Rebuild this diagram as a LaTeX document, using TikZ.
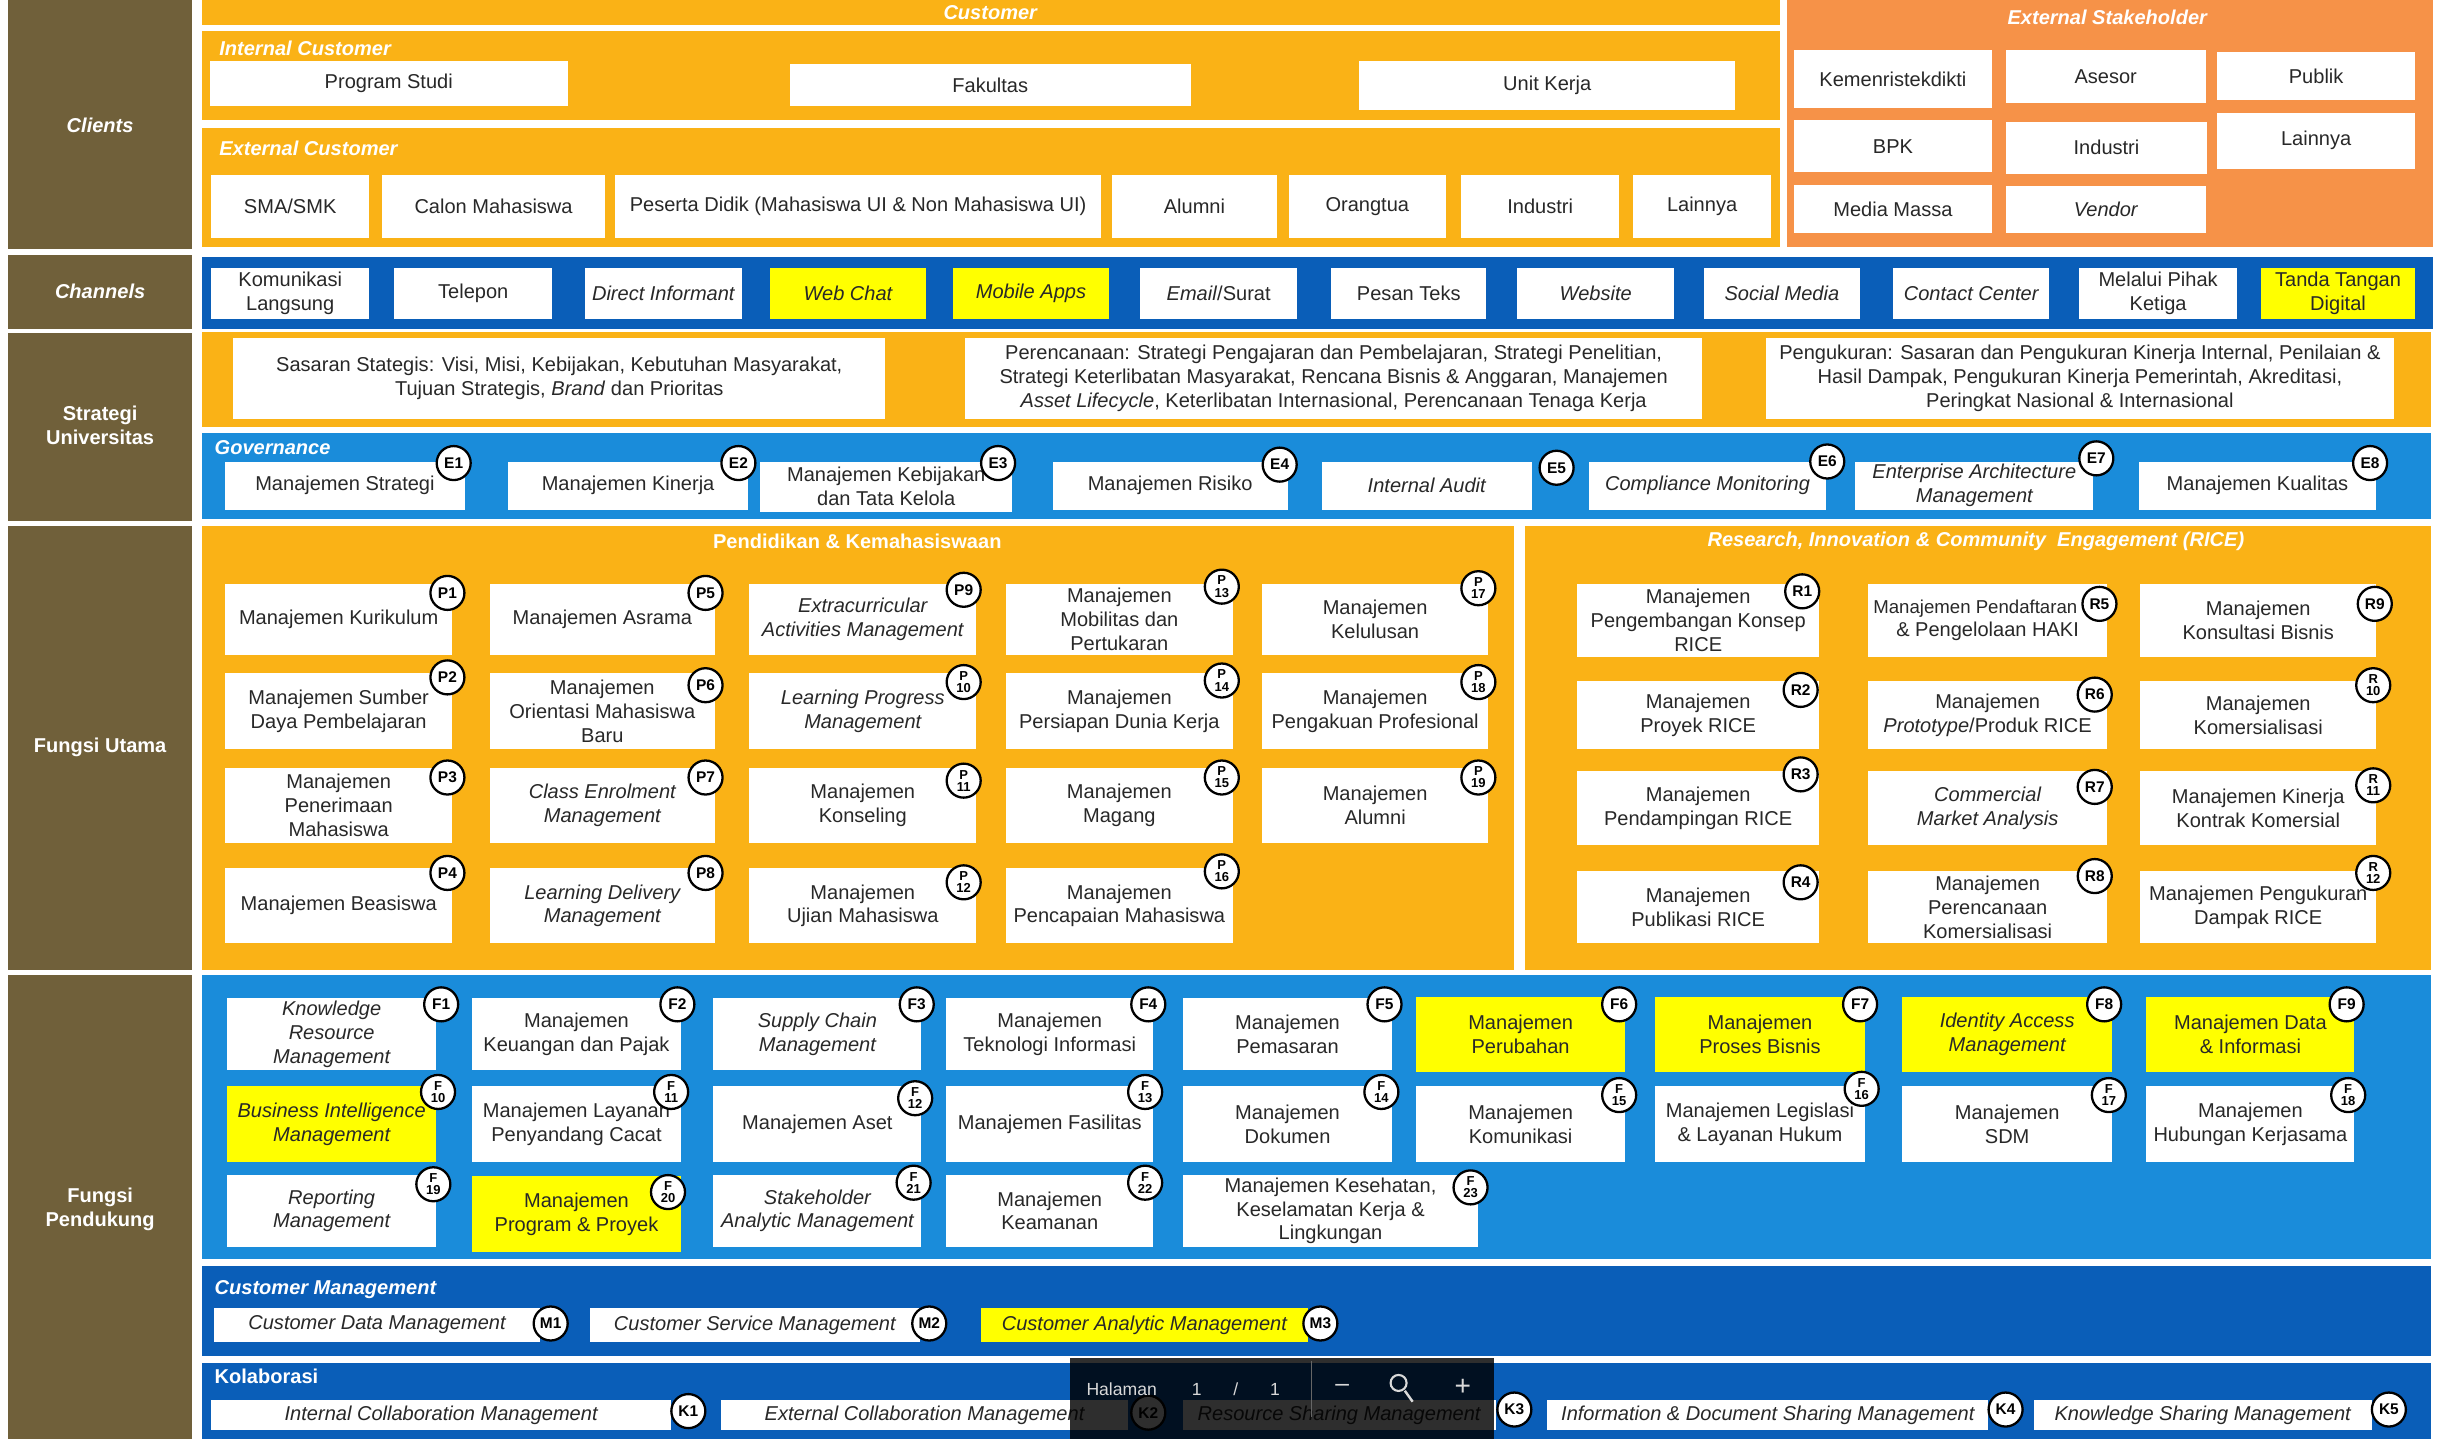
\documentclass[tikz,border=0pt]{standalone}
\usepackage{fontspec}
\setmainfont{Liberation Sans}
\definecolor{brn}{RGB}{112,96,58}
\definecolor{corange}{RGB}{250,178,22}
\definecolor{eorange}{RGB}{246,146,72}
\definecolor{dblue}{RGB}{10,94,184}
\definecolor{lblue}{RGB}{26,140,218}
\definecolor{hyel}{RGB}{255,255,0}
\definecolor{txt}{RGB}{40,40,40}
\newcommand\fsz{\fontsize{11.4}{13.6}\selectfont}
\newcommand\mybox[7]{%
  \pgfmathsetmacro\mbw{(#4-#2)*0.031288}%
  \pgfmathsetmacro\mbh{(#5-#3)*0.031288}%
  \node[box,#6,minimum width=\mbw cm,minimum height=\mbh cm] (#1) at ({(#2+#4)/2},{(#3+#5)/2}) {#7};%
}
\newcommand\mybdg[4]{\node[badge] (#1) at (#2,#3) {#4};}
\newcommand\mybdgg[5]{\node[badge,font=\bfseries\fontsize{7.4}{6.9}\selectfont] (#1) at (#2,#3) {#4\\#5};}
\tikzset{
  box/.style={fill=white, inner sep=0pt, align=center, text=txt, font=\fsz},
  yel/.style={fill=hyel},
  itx/.style={font=\fsz\itshape},
  badge/.style={circle, draw=black, line width=1.3pt, fill=white, minimum size=0.68cm, inner sep=0pt, align=center, text=black, font=\bfseries\fontsize{8.8}{8.8}\selectfont},
  hdr/.style={text=white, font=\fsz\bfseries\itshape, inner sep=0pt},
  side/.style={text=white, font=\fsz\bfseries, align=center, inner sep=0pt},
  tbtext/.style={text=white!85!black, font=\fontsize{10}{10}\selectfont, inner sep=0pt}
}
\begin{document}
\begin{tikzpicture}[x=0.031288cm,y=-0.031288cm]
\useasboundingbox (0,0) rectangle (1568,920);
\fill[white] (0,0) rectangle (1568,920);
% ---------- left column
\fill[brn] (5,0) rectangle (123,159);
\fill[brn] (5,163) rectangle (123,210);
\fill[brn] (5,213) rectangle (123,333);
\fill[brn] (5,336) rectangle (123,620);
\fill[brn] (5,623) rectangle (123,920);
\node[side,font=\fsz\bfseries\itshape] (lcl) at (64,80) {Clients};
\node[side,font=\fsz\bfseries\itshape] (lch) at (64,186) {Channels};
\node[side] (lsu) at (64,272) {Strategi\\Universitas};
\node[side] (lfu) at (64,478) {Fungsi Utama};
\node[side] (lfp) at (64,773) {Fungsi\\Pendukung};
% ---------- panels
\fill[corange] (129,0) rectangle (1138,16);
\fill[corange] (129,20) rectangle (1138,77);
\fill[corange] (129,82) rectangle (1138,158);
\fill[eorange] (1142,0) rectangle (1555,158);
\fill[dblue] (129,164) rectangle (1555,210);
\fill[corange] (129,212) rectangle (1554,273);
\fill[lblue] (129,277) rectangle (1554,332);
\fill[corange] (129,336) rectangle (968,620);
\fill[corange] (975,336) rectangle (1554,620);
\fill[lblue] (129,623) rectangle (1554,805);
\fill[dblue] (129,809) rectangle (1554,867);
\fill[dblue] (129,871) rectangle (1554,920);
% ---------- headers
\node[hdr] (hcust) at (633,8) {Customer};
\node[hdr,anchor=west] (hint) at (140,31) {Internal Customer};
\node[hdr,anchor=west] (hext) at (140,95) {External Customer};
\node[hdr] (hes) at (1347,11) {External Stakeholder};
\node[hdr,anchor=west] (hgov) at (137,286) {Governance};
\node[hdr,font=\fsz\bfseries] (hpk) at (548,346) {Pendidikan \& Kemahasiswaan};
\node[hdr] (hrice) at (1263,346) {Research, Innovation \& Community\ \ Engagement (RICE)};
\node[hdr,anchor=west] (hcm) at (137,824) {Customer Management};
\node[hdr,anchor=west,font=\fsz\bfseries] (hkol) at (137,880) {Kolaborasi};
% ---------- clients
\mybox{prodi}{134}{39}{363}{68}{}{Program Studi}
\mybox{fak}{505}{41}{761}{68}{}{Fakultas}
\mybox{unit}{869}{39}{1109}{70}{}{Unit Kerja}
\mybox{sma}{135}{112}{236}{152}{}{SMA/SMK}
\mybox{calon}{244}{112}{387}{152}{}{Calon Mahasiswa}
\mybox{peserta}{393}{112}{704}{152}{}{Peserta Didik (Mahasiswa UI \& Non Mahasiswa UI)}
\mybox{alumni}{711}{112}{816}{152}{}{Alumni}
\mybox{ortu}{824}{112}{924}{152}{}{Orangtua}
\mybox{indc}{934}{112}{1035}{152}{}{Industri}
\mybox{lainc}{1044}{112}{1132}{152}{}{Lainnya}
\mybox{kemen}{1147}{32}{1273}{69}{}{Kemenristekdikti}
\mybox{asesor}{1282}{32}{1410}{66}{}{Asesor}
\mybox{publik}{1417}{33}{1544}{64}{}{Publik}
\mybox{bpk}{1147}{77}{1273}{110}{}{BPK}
\mybox{inds}{1282}{78}{1411}{111}{}{Industri}
\mybox{lains}{1417}{72}{1544}{108}{}{Lainnya}
\mybox{media}{1147}{118}{1273}{149}{}{Media Massa}
\mybox{vendor}{1282}{119}{1410}{149}{itx}{Vendor}
% ---------- channels
\mybox{ch1}{135}{171}{236}{204}{}{Komunikasi\\Langsung}
\mybox{ch2}{252}{171}{353}{204}{}{Telepon}
\mybox{ch3}{374}{171}{474}{204}{itx}{Direct Informant}
\mybox{ch4}{492}{171}{592}{204}{yel,itx}{Web Chat}
\mybox{ch5}{609}{171}{709}{204}{yel,itx}{Mobile Apps}
\mybox{ch6}{729}{171}{829}{204}{}{\textit{Email}/Surat}
\mybox{ch7}{851}{171}{950}{204}{}{Pesan Teks}
\mybox{ch8}{970}{171}{1070}{204}{itx}{Website}
\mybox{ch9}{1089}{171}{1189}{204}{itx}{Social Media}
\mybox{ch10}{1210}{171}{1310}{204}{itx}{Contact Center}
\mybox{ch11}{1329}{171}{1430}{204}{}{Melalui Pihak\\Ketiga}
\mybox{ch12}{1445}{171}{1544}{204}{yel}{Tanda Tangan\\Digital}
% ---------- strategi
\mybox{s1}{149}{216}{566}{268}{}{Sasaran Stategis: Visi, Misi, Kebijakan, Kebutuhan Masyarakat,\\Tujuan Strategis, \textit{Brand} dan Prioritas}
\mybox{s2}{617}{216}{1088}{268}{}{Perencanaan: Strategi Pengajaran dan Pembelajaran, Strategi Penelitian,\\Strategi Keterlibatan Masyarakat, Rencana Bisnis \& Anggaran, Manajemen\\\textit{Asset Lifecycle}, Keterlibatan Internasional, Perencanaan Tenaga Kerja}
\mybox{s3}{1129}{216}{1530}{268}{}{Pengukuran: Sasaran dan Pengukuran Kinerja Internal, Penilaian \&\\Hasil Dampak, Pengukuran Kinerja Pemerintah, Akreditasi,\\Peringkat Nasional \& Internasional}
% ---------- governance
\mybox{e1}{144}{295}{297}{326}{}{Manajemen Strategi}
\mybox{e2}{325}{295}{478}{326}{}{Manajemen Kinerja}
\mybox{e3}{486}{295}{647}{327}{}{Manajemen Kebijakan\\dan Tata Kelola}
\mybox{e4}{673}{295}{823}{326}{}{Manajemen Risiko}
\mybox{e5}{845}{295}{979}{326}{itx}{Internal Audit}
\mybox{e6}{1016}{295}{1167}{326}{itx}{Compliance Monitoring}
\mybox{e7}{1186}{295}{1338}{326}{itx}{Enterprise Architecture\\Management}
\mybox{e8}{1367}{295}{1519}{326}{}{Manajemen Kualitas}
\mybdg{be1}{290}{296}{E1}
\mybdg{be2}{472}{296}{E2}
\mybdg{be3}{638}{296}{E3}
\mybdg{be4}{818}{297}{E4}
\mybdg{be5}{995}{299}{E5}
\mybdg{be6}{1168}{295}{E6}
\mybdg{be7}{1340}{293}{E7}
\mybdg{be8}{1515}{296}{E8}
% ---------- pendidikan
\mybox{p1}{144}{373}{289}{419}{}{Manajemen Kurikulum}
\mybox{p2}{144}{430}{289}{479}{}{Manajemen Sumber\\Daya Pembelajaran}
\mybox{p3}{144}{491}{289}{539}{}{Manajemen\\Penerimaan\\Mahasiswa}
\mybox{p4}{144}{555}{289}{603}{}{Manajemen Beasiswa}
\mybox{p5}{313}{373}{457}{419}{}{Manajemen Asrama}
\mybox{p6}{313}{430}{457}{479}{}{Manajemen\\Orientasi Mahasiswa\\Baru}
\mybox{p7}{313}{491}{457}{539}{itx}{Class Enrolment\\Management}
\mybox{p8}{313}{555}{457}{603}{itx}{Learning Delivery\\Management}
\mybox{p9}{479}{373}{624}{419}{itx}{Extracurricular\\Activities Management}
\mybox{p10}{479}{430}{624}{479}{itx}{Learning Progress\\Management}
\mybox{p11}{479}{491}{624}{539}{}{Manajemen\\Konseling}
\mybox{p12}{479}{555}{624}{603}{}{Manajemen\\Ujian Mahasiswa}
\mybox{p13}{643}{373}{788}{419}{}{Manajemen\\Mobilitas dan\\Pertukaran}
\mybox{p14}{643}{430}{788}{479}{}{Manajemen\\Persiapan Dunia Kerja}
\mybox{p15}{643}{491}{788}{539}{}{Manajemen\\Magang}
\mybox{p16}{643}{555}{788}{603}{}{Manajemen\\Pencapaian Mahasiswa}
\mybox{p17}{807}{373}{951}{419}{}{Manajemen\\Kelulusan}
\mybox{p18}{807}{430}{951}{479}{}{Manajemen\\Pengakuan Profesional}
\mybox{p19}{807}{491}{951}{539}{}{Manajemen\\Alumni}
\mybdg{bp1}{286}{379}{P1}
\mybdg{bp2}{286}{433}{P2}
\mybdg{bp3}{286}{497}{P3}
\mybdg{bp4}{286}{558}{P4}
\mybdg{bp5}{451}{379}{P5}
\mybdg{bp6}{451}{438}{P6}
\mybdg{bp7}{451}{497}{P7}
\mybdg{bp8}{451}{558}{P8}
\mybdg{bp9}{616}{377}{P9}
\mybdgg{bp10}{616}{436}{P}{10}
\mybdgg{bp11}{616}{499}{P}{11}
\mybdgg{bp12}{616}{564}{P}{12}
\mybdgg{bp13}{781}{375}{P}{13}
\mybdgg{bp14}{781}{435}{P}{14}
\mybdgg{bp15}{781}{497}{P}{15}
\mybdgg{bp16}{781}{557}{P}{16}
\mybdgg{bp17}{945}{376}{P}{17}
\mybdgg{bp18}{945}{436}{P}{18}
\mybdgg{bp19}{945}{497}{P}{19}
% ---------- RICE
\mybox{r1}{1008}{373}{1163}{420}{}{Manajemen\\Pengembangan Konsep\\RICE}
\mybox{r2}{1008}{435}{1163}{479}{}{Manajemen\\Proyek RICE}
\mybox{r3}{1008}{493}{1163}{540}{}{Manajemen\\Pendampingan RICE}
\mybox{r4}{1008}{557}{1163}{603}{}{Manajemen\\Publikasi RICE}
\mybox{r5}{1194}{373}{1347}{420}{}{{\fontsize{10.6}{13.6}\selectfont Manajemen Pendaftaran}\hspace*{14pt}\\\& Pengelolaan HAKI}
\mybox{r6}{1194}{435}{1347}{479}{}{Manajemen\\\textit{Prototype}/Produk RICE}
\mybox{r7}{1194}{493}{1347}{540}{itx}{Commercial\\Market Analysis}
\mybox{r8}{1194}{557}{1347}{603}{}{Manajemen\\Perencanaan\\Komersialisasi}
\mybox{r9}{1368}{373}{1519}{420}{}{Manajemen\\Konsultasi Bisnis}
\mybox{r10}{1368}{435}{1519}{479}{}{Manajemen\\Komersialisasi}
\mybox{r11}{1368}{493}{1519}{540}{}{Manajemen Kinerja\\Kontrak Komersial}
\mybox{r12}{1368}{557}{1519}{603}{}{Manajemen Pengukuran\\Dampak RICE}
\mybdg{br1}{1152}{378}{R1}
\mybdg{br2}{1151}{441}{R2}
\mybdg{br3}{1151}{495}{R3}
\mybdg{br4}{1151}{564}{R4}
\mybdg{br5}{1342}{386}{R5}
\mybdg{br6}{1339}{444}{R6}
\mybdg{br7}{1339}{503}{R7}
\mybdg{br8}{1339}{560}{R8}
\mybdg{br9}{1518}{386}{R9}
\mybdgg{br10}{1517}{438}{R}{10}
\mybdgg{br11}{1517}{502}{R}{11}
\mybdgg{br12}{1517}{558}{R}{12}
% ---------- fungsi pendukung
\mybox{f1}{145}{638}{279}{684}{itx}{Knowledge\\Resource\\Management}
\mybox{f2}{302}{638}{435}{684}{}{Manajemen\\Keuangan dan Pajak}
\mybox{f3}{456}{638}{589}{684}{itx}{Supply Chain\\Management}
\mybox{f4}{605}{638}{737}{684}{}{Manajemen\\Teknologi Informasi}
\mybox{f5}{756}{638}{890}{684}{}{Manajemen\\Pemasaran}
\mybox{f6}{905}{637}{1039}{685}{yel}{Manajemen\\Perubahan}
\mybox{f7}{1058}{637}{1192}{685}{yel}{Manajemen\\Proses Bisnis}
\mybox{f8}{1216}{637}{1350}{685}{yel,itx}{Identity Access\\Management}
\mybox{f9}{1372}{637}{1505}{685}{yel}{Manajemen Data\\\& Informasi}
\mybox{f10}{145}{694}{279}{743}{yel,itx}{Business Intelligence\\Management}
\mybox{f11}{302}{694}{435}{743}{}{Manajemen Layanan\\Penyandang Cacat}
\mybox{f12}{456}{694}{589}{743}{}{Manajemen Aset}
\mybox{f13}{605}{694}{737}{743}{}{Manajemen Fasilitas}
\mybox{f14}{756}{694}{890}{743}{}{Manajemen\\Dokumen}
\mybox{f15}{905}{694}{1039}{743}{}{Manajemen\\Komunikasi}
\mybox{f16}{1058}{694}{1192}{743}{}{Manajemen Legislasi\\\& Layanan Hukum}
\mybox{f17}{1216}{694}{1350}{743}{}{Manajemen\\SDM}
\mybox{f18}{1372}{694}{1505}{743}{}{Manajemen\\Hubungan Kerjasama}
\mybox{f19}{145}{751}{279}{797}{itx}{Reporting\\Management}
\mybox{f20}{302}{752}{435}{800}{yel}{Manajemen\\Program \& Proyek}
\mybox{f21}{456}{751}{589}{797}{itx}{Stakeholder\\Analytic Management}
\mybox{f22}{605}{751}{737}{797}{}{Manajemen\\Keamanan}
\mybox{f23}{756}{751}{945}{797}{}{Manajemen Kesehatan,\\Keselamatan Kerja \&\\Lingkungan}
\mybdg{bf1}{282}{642}{F1}
\mybdg{bf2}{433}{642}{F2}
\mybdg{bf3}{586}{642}{F3}
\mybdg{bf4}{734}{642}{F4}
\mybdg{bf5}{885}{642}{F5}
\mybdg{bf6}{1035}{642}{F6}
\mybdg{bf7}{1189}{642}{F7}
\mybdg{bf8}{1345}{642}{F8}
\mybdg{bf9}{1500}{642}{F9}
\mybdgg{bf10}{280}{698}{F}{10}
\mybdgg{bf11}{429}{698}{F}{11}
\mybdgg{bf12}{585}{702}{F}{12}
\mybdgg{bf13}{732}{698}{F}{13}
\mybdgg{bf14}{883}{698}{F}{14}
\mybdgg{bf15}{1035}{700}{F}{15}
\mybdgg{bf16}{1190}{696}{F}{16}
\mybdgg{bf17}{1348}{700}{F}{17}
\mybdgg{bf18}{1501}{700}{F}{18}
\mybdgg{bf19}{277}{757}{F}{19}
\mybdgg{bf20}{427}{762}{F}{20}
\mybdgg{bf21}{584}{756}{F}{21}
\mybdgg{bf22}{732}{756}{F}{22}
\mybdgg{bf23}{940}{759}{F}{23}
% ---------- customer management
\mybox{m1}{137}{836}{345}{858}{itx}{Customer Data Management}
\mybox{m2}{377}{836}{588}{858}{itx}{Customer Service Management}
\mybox{m3}{627}{836}{836}{858}{yel,itx}{Customer Analytic Management}
\mybdg{bm1}{352}{846}{M1}
\mybdg{bm2}{594}{846}{M2}
\mybdg{bm3}{844}{846}{M3}
% ---------- kolaborasi
\mybox{k1}{135}{895}{429}{914}{itx}{Internal Collaboration Management}
\mybox{k2}{461}{895}{721}{914}{itx}{External Collaboration Management}
\mybox{k3}{756}{895}{956}{914}{itx}{Resource Sharing Management}
\mybox{k4}{989}{895}{1271}{914}{itx}{Information \& Document Sharing Management}
\mybox{k5}{1300}{895}{1516}{914}{itx}{Knowledge Sharing Management}
\mybdg{bk1}{440}{902}{K1}
\mybdg{bk2}{734}{903}{K2}
\mybdg{bk3}{968}{901}{K3}
\mybdg{bk4}{1282}{901}{K4}
\mybdg{bk5}{1527}{901}{K5}
% ---------- viewer toolbar overlay
\fill[black,opacity=0.82] (684,868) rectangle (955,920);
\draw[white!40!black,line width=0.4pt] (838,870) -- (838,906);
\node[tbtext] (hal) at (717,888) {Halaman};
\node[tbtext] (pg1) at (765,888) {1};
\node[tbtext] (pgs) at (790,888) {/};
\node[tbtext] (pg2) at (815,888) {1};
\node[tbtext,font=\fontsize{14}{14}\selectfont] (zminus) at (858,887) {--};
\node[tbtext,font=\fontsize{16}{16}\selectfont] (zplus) at (935,887) {+};
\draw[white!85!black,line width=1.2pt] (894,884) circle[radius=0.16cm];
\draw[white!85!black,line width=1.4pt] (898,889) -- (903,896);
\end{tikzpicture}
\end{document}
